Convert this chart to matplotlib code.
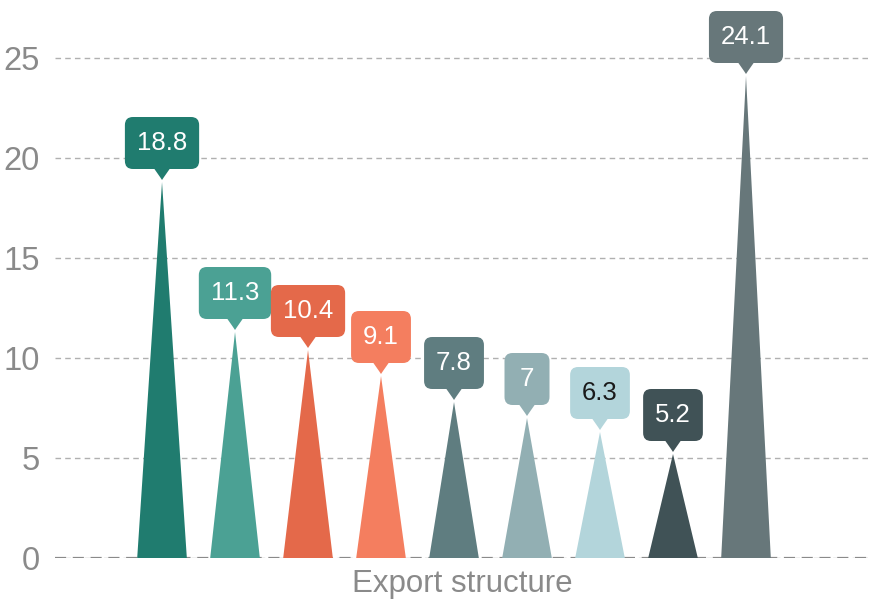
import matplotlib
matplotlib.use("Agg")
import matplotlib.pyplot as plt
import matplotlib.transforms as mtransforms
from matplotlib.patches import Polygon, FancyBboxPatch

plt.rcParams["font.family"] = ["Liberation Sans", "DejaVu Sans"]

values = [18.8, 11.3, 10.4, 9.1, 7.8, 7, 6.3, 5.2, 24.1]
labels = ["18.8", "11.3", "10.4", "9.1", "7.8", "7", "6.3", "5.2", "24.1"]
y_ticks = [0, 5, 10, 15, 20, 25]
x_title = "Export structure"

colors = ["#207c6f", "#4ba194", "#e4694a", "#f47e5f", "#5f7d80",
          "#92afb3", "#b3d5db", "#405256", "#67777a"]
text_colors = ["white"] * 6 + ["#1a1a1a"] + ["white"] * 2

fig = plt.figure(figsize=(8.69, 6.02), dpi=100)
ax = fig.add_axes([55 / 869, 44 / 602, 814 / 869, 558 / 602])
ax.set_xlim(-1.466, 9.685)
ax.set_ylim(0, 27.9)

half = 0.34
for i, (v, c) in enumerate(zip(values, colors)):
    ax.fill([i - half, i + half, i], [0, 0, v], color=c, lw=0, zorder=3)

renderer = fig.canvas.get_renderer()
# callout labels: pointer + rounded box (sizes in inches, anchored at the apex)
for i, (v, lab, c, tc) in enumerate(zip(values, labels, colors, text_colors)):
    tr = fig.dpi_scale_trans + mtransforms.ScaledTranslation(i, v, ax.transData)
    t = ax.text(0, 0.39, lab, transform=tr, ha="center", va="center",
                fontsize=18.5, color=tc, zorder=6, clip_on=False)
    tw = t.get_window_extent(renderer).width / fig.dpi
    w = max(0.45, tw + 0.24)
    ax.add_patch(FancyBboxPatch((-w / 2 + 0.08, 0.21), w - 0.16, 0.52 - 0.16,
                                boxstyle="round,pad=0.08", transform=tr, fc=c,
                                ec="none", zorder=5, clip_on=False))
    ax.add_patch(Polygon([(-0.09, 0.15), (0.09, 0.15), (0.02, 0.05), (0, 0.02),
                          (-0.02, 0.05)], closed=True,
                         transform=tr, color=c, lw=0, zorder=5, clip_on=False))

ax.set_yticks(y_ticks)
ax.set_yticklabels([str(t) for t in y_ticks])
ax.set_xticks([])
ax.tick_params(axis="y", length=0, pad=11, labelsize=23.5, labelcolor="#8a8a8a")
ax.grid(axis="y", color="#b0b0b0", linestyle=(0, (4, 3)), linewidth=1, zorder=0)
ax.axhline(0, color="#8a8a8a", linestyle=(0, (5, 3)), linewidth=1.6, zorder=2)
for s in ax.spines.values():
    s.set_visible(False)

ax.set_xlabel(x_title, fontsize=22.5, color="#8a8a8a", labelpad=8)

fig.savefig("out.png", dpi=100)
